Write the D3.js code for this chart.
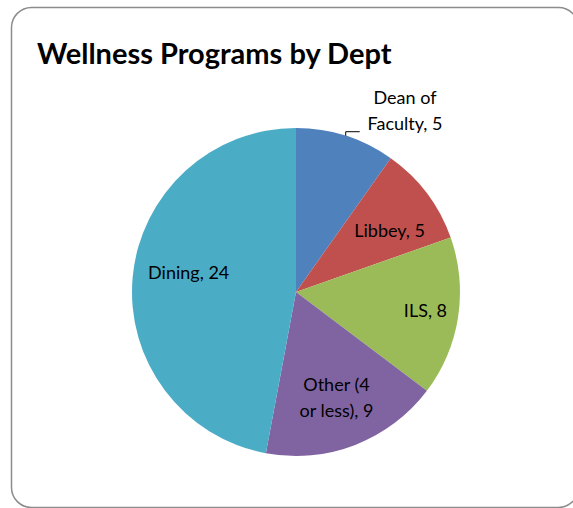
<!DOCTYPE html>
<html>
<head>
<meta charset="utf-8">
<script src="https://cdn.jsdelivr.net/npm/d3@7"></script>
<style>
  body { margin: 0; background: #fff; }
  text { font-family: "Lato", "Open Sans", sans-serif; fill: #000; }
</style>
</head>
<body>
<div id="chart"></div>
<script>
// data
var depts = ["Dean of Faculty", "Libbey", "ILS", "Other (4 or less)", "Dining"];
var counts = [5, 5, 8, 9, 24];
var colors = ["#4F81BD", "#C0504D", "#9BBB59", "#8064A2", "#4BACC6"];
// label lines as shown on the chart
var labelLines = [["Dean of", "Faculty, 5"], ["Libbey, 5"], ["ILS, 8"], ["Other (4", "or less), 9"], ["Dining, 24"]];

var width = 573, height = 508;
var cx = 296, cy = 292, radius = 164;

var svg = d3.select("#chart").append("svg")
    .attr("width", width)
    .attr("height", height);

// outer frame (runs off the right and bottom edge)
svg.append("rect")
    .attr("x", 11.5).attr("y", 7.5)
    .attr("width", 567).attr("height", 500)
    .attr("rx", 20).attr("ry", 20)
    .attr("fill", "#fff")
    .attr("stroke", "#8c8c8c")
    .attr("stroke-width", 1.5);

svg.append("text")
    .attr("x", 37).attr("y", 64)
    .style("font-size", "29px")
    .style("font-weight", "bold")
    .text("Wellness Programs by Dept");

var data = depts.map(function(d, i) {
    return { name: d, value: counts[i], color: colors[i], lines: labelLines[i] };
});

var pie = d3.pie()
    .sort(null)
    .value(function(d) { return d.value; });

var arc = d3.arc().innerRadius(0).outerRadius(radius);
var labelArc = d3.arc().innerRadius(radius * 0.7).outerRadius(radius * 0.7);

var g = svg.append("g")
    .attr("transform", "translate(" + cx + "," + cy + ")");

var arcs = pie(data);

g.selectAll(".slice")
    .data(arcs)
    .enter().append("path")
    .attr("class", "slice")
    .attr("d", arc)
    .attr("fill", function(d) { return d.data.color; });

// label placement tweaks (best-fit style, like Excel)
var nudge = [[0, 0], [2, 7], [16, 0], [-1, -3], [7, -9]];
var lineH = 24, capH = 14;

var labels = g.selectAll(".label")
    .data(arcs)
    .enter().append("text")
    .attr("class", "label")
    .attr("text-anchor", "middle")
    .style("font-size", "18px")
    .attr("transform", function(d, i) {
        var c;
        if (i === 0) {
            // outside the slice, up and to the right
            c = [109, -183];
        } else {
            c = labelArc.centroid(d);
            c = [c[0] + nudge[i][0], c[1] + nudge[i][1]];
        }
        var y0 = c[1] + capH / 2 - (d.data.lines.length - 1) * lineH / 2;
        return "translate(" + c[0] + "," + y0 + ")";
    });

labels.selectAll("tspan")
    .data(function(d) { return d.data.lines; })
    .enter().append("tspan")
    .attr("x", 0)
    .attr("dy", function(d, i) { return i === 0 ? 0 : lineH + 2; })
    .text(function(d) { return d; });

// leader for Dean of Faculty, from the slice's mid point on the rim
var mid = (arcs[0].startAngle + arcs[0].endAngle) / 2;
var edge = [Math.sin(mid) * radius, -Math.cos(mid) * radius];
g.append("path")
    .attr("d", "M" + edge[0] + "," + edge[1] + "V" + (edge[1] - 4) + "H" + (edge[0] + 14))
    .attr("fill", "none")
    .attr("stroke", "#000")
    .attr("stroke-width", 1);
</script>
</body>
</html>
